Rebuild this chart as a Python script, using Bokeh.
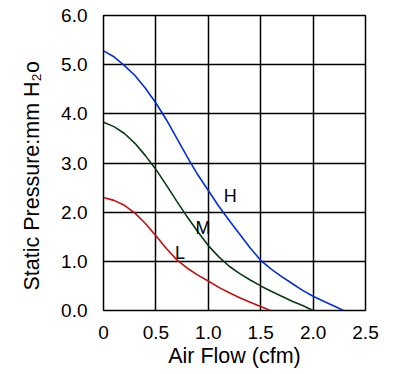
from bokeh.plotting import figure
from bokeh.models import FixedTicker, Label, Range1d, Title
from bokeh.embed import file_html
from bokeh.resources import INLINE

# ---- data ----
flow_H = [0.0, 0.1, 0.2, 0.3, 0.4, 0.5, 0.6, 0.7, 0.8, 0.9, 1.0, 1.1, 1.2, 1.3, 1.4, 1.5, 1.6, 1.7, 1.8, 1.9, 2.0, 2.1, 2.2, 2.29]
pres_H = [5.28, 5.16, 4.98, 4.78, 4.52, 4.22, 3.88, 3.5, 3.12, 2.76, 2.44, 2.12, 1.83, 1.55, 1.27, 1.02, 0.84, 0.69, 0.55, 0.41, 0.29, 0.19, 0.09, 0.0]

flow_M = [0.0, 0.1, 0.2, 0.3, 0.4, 0.5, 0.6, 0.7, 0.8, 0.9, 1.0, 1.1, 1.2, 1.3, 1.4, 1.5, 1.6, 1.7, 1.8, 1.9, 2.0]
pres_M = [3.83, 3.74, 3.6, 3.4, 3.15, 2.87, 2.55, 2.22, 1.9, 1.6, 1.32, 1.09, 0.9, 0.75, 0.62, 0.5, 0.39, 0.29, 0.19, 0.1, 0.0]

flow_L = [0.0, 0.1, 0.2, 0.3, 0.4, 0.5, 0.6, 0.7, 0.8, 0.9, 1.0, 1.1, 1.2, 1.3, 1.4, 1.5, 1.59]
pres_L = [2.3, 2.24, 2.14, 1.98, 1.77, 1.52, 1.26, 1.03, 0.86, 0.72, 0.6, 0.47, 0.36, 0.26, 0.17, 0.08, 0.0]

x_ticks = [0, 0.5, 1.0, 1.5, 2.0, 2.5]
x_tick_labels = ["0", "0.5", "1.0", "1.5", "2.0", "2.5"]
y_ticks = [0, 1, 2, 3, 4, 5, 6]
y_tick_labels = ["0.0", "1.0", "2.0", "3.0", "4.0", "5.0", "6.0"]

curve_names = ["H", "M", "L"]
label_x = [1.21, 0.95, 0.73]
label_y = [2.33, 1.68, 1.17]

x_title = "Air Flow (cfm)"
y_title = "Static Pressure:mm H\u2082o"

FONT = "Liberation Sans"

p = figure(frame_width=262, frame_height=295, output_backend="svg", toolbar_location=None,
           x_range=Range1d(0, 2.5), y_range=Range1d(0, 6),
           min_border_left=103, min_border_right=27, min_border_top=15, min_border_bottom=20)

p.line(flow_H, pres_H, line_color="#0030d0", line_width=1.6)
p.line(flow_M, pres_M, line_color="#0a3a12", line_width=1.6)
p.line(flow_L, pres_L, line_color="#c01010", line_width=1.6)

for name, lx, ly in zip(curve_names, label_x, label_y):
    p.add_layout(Label(x=lx, y=ly, text=name, text_align="center", text_baseline="middle",
                       text_font=FONT, text_font_size="18px", text_color="black"))

for ax in (p.xaxis[0], p.yaxis[0]):
    ax.axis_line_color = None
    ax.major_tick_line_color = None
    ax.minor_tick_line_color = None
    ax.major_label_text_font = FONT
    ax.major_label_text_font_size = "19px"
    ax.major_label_text_color = "black"

p.xaxis[0].ticker = FixedTicker(ticks=x_ticks)
p.xaxis[0].major_label_overrides = {t: s for t, s in zip(x_ticks, x_tick_labels)}
p.yaxis[0].ticker = FixedTicker(ticks=y_ticks)
p.yaxis[0].major_label_overrides = {t: s for t, s in zip(y_ticks, y_tick_labels)}
p.xaxis[0].major_label_standoff = 9
p.yaxis[0].major_label_standoff = 10

p.xaxis[0].axis_label = x_title
p.xaxis[0].axis_label_text_font = FONT
p.xaxis[0].axis_label_text_font_size = "21.5px"
p.xaxis[0].axis_label_text_font_style = "normal"
p.xaxis[0].axis_label_text_color = "black"
p.xaxis[0].axis_label_standoff = 2

# y title as a side title so it can sit below the frame centre like the reference
p.add_layout(Title(text=y_title, align="left", offset=20, standoff=30,
                   text_font=FONT, text_font_size="21.5px", text_font_style="normal",
                   text_color="black"), "left")

p.xgrid.ticker = FixedTicker(ticks=x_ticks)
p.ygrid.ticker = FixedTicker(ticks=y_ticks)
for g in (p.xgrid[0], p.ygrid[0]):
    g.grid_line_color = "black"
    g.grid_line_width = 1.5
    g.grid_line_alpha = 1.0

p.outline_line_color = "black"
p.outline_line_width = 1.5
p.outline_line_alpha = 1.0
p.background_fill_color = "white"
p.border_fill_color = "white"

open("out.html", "w").write(file_html(p, INLINE))
